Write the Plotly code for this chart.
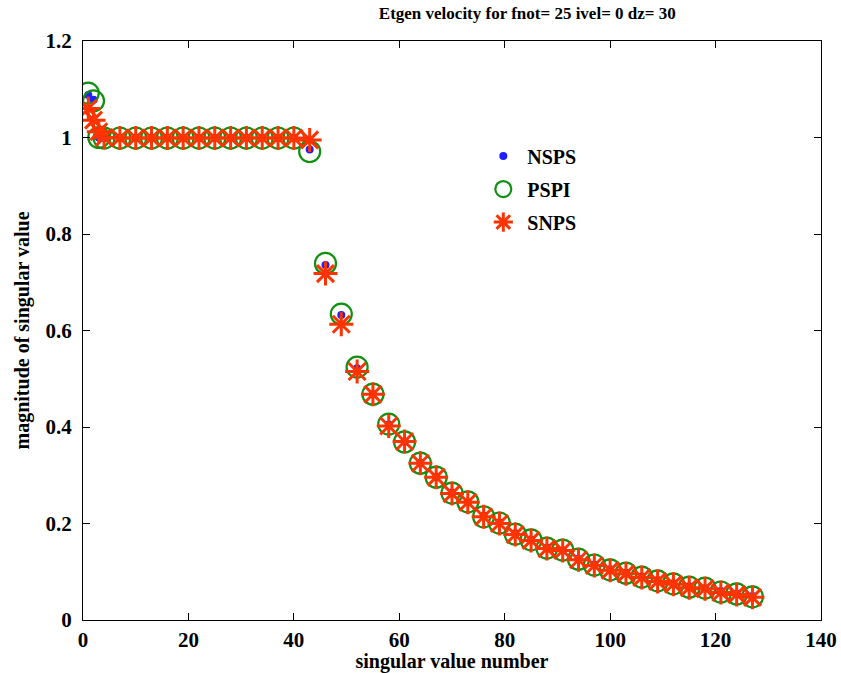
import plotly.graph_objects as go

title_text = "Etgen velocity for fnot= 25 ivel= 0 dz= 30"
x_label = "singular value number"
y_label = "magnitude of singular value"

sv_index = [1, 2, 3, 4, 7, 10, 13, 16, 19, 22, 25, 28, 31, 34, 37, 40, 43,
            46, 49, 52, 55, 58, 61, 64, 67, 70, 73, 76, 79, 82, 85, 88, 91,
            94, 97, 100, 103, 106, 109, 112, 115, 118, 121, 124, 127]

nsps = [1.088, 1.078, 1.0, 0.999, 0.999, 0.999, 0.999, 0.999, 0.999, 0.999,
        0.999, 0.999, 0.999, 0.999, 0.999, 0.999, 0.975,
        0.736, 0.632, 0.522, 0.468, 0.405, 0.370, 0.326, 0.297, 0.264, 0.244,
        0.216, 0.202, 0.180, 0.167, 0.150, 0.144, 0.127, 0.115, 0.105, 0.098,
        0.090, 0.083, 0.076, 0.070, 0.066, 0.060, 0.055, 0.050]

pspi = [1.092, 1.076, 1.0, 0.999, 0.999, 0.999, 0.999, 0.999, 0.999, 0.999,
        0.999, 0.999, 0.999, 0.999, 0.999, 0.999, 0.971,
        0.739, 0.634, 0.524, 0.468, 0.406, 0.369, 0.325, 0.296, 0.263, 0.245,
        0.214, 0.201, 0.178, 0.166, 0.149, 0.145, 0.126, 0.114, 0.104, 0.097,
        0.089, 0.081, 0.075, 0.068, 0.066, 0.058, 0.054, 0.048]

snps = [1.060, 1.036, 1.012, 1.0, 0.999, 0.999, 0.999, 0.999, 0.999, 0.999,
        0.999, 0.999, 0.999, 0.999, 0.999, 0.999, 0.995,
        0.718, 0.613, 0.515, 0.468, 0.402, 0.370, 0.325, 0.296, 0.262, 0.244,
        0.214, 0.200, 0.177, 0.165, 0.148, 0.144, 0.125, 0.113, 0.103, 0.096,
        0.088, 0.080, 0.074, 0.067, 0.065, 0.057, 0.053, 0.047]

x_ticks = [0, 20, 40, 60, 80, 100, 120, 140]
y_ticks = [0, 0.2, 0.4, 0.6, 0.8, 1.0, 1.2]
y_ticklabels = ["0", "0.2", "0.4", "0.6", "0.8", "1", "1.2"]

font_family = "Liberation Serif"

fig = go.Figure()
fig.add_trace(go.Scatter(
    x=sv_index, y=nsps, mode="markers", name="<b>NSPS</b>", legendgroup="a",
    marker=dict(symbol="circle", size=8, color="#1f1fff", line=dict(width=0)),
))
fig.add_trace(go.Scatter(
    x=sv_index, y=pspi, mode="markers", name="<b>PSPI</b>", legendgroup="b",
    marker=dict(symbol="circle-open", size=21, color="#109010",
                line=dict(width=2.2, color="#109010")),
))
fig.add_trace(go.Scatter(
    x=sv_index, y=snps, mode="markers", name="<b>SNPS</b>", legendgroup="c",
    marker=dict(symbol="asterisk-open", size=20, color="#ff3300",
                line=dict(width=3, color="#ff3300")),
))

axis_common = dict(
    showline=True, linecolor="black", linewidth=1.3, mirror="ticks",
    ticks="inside", ticklen=7, tickcolor="black", tickwidth=1,
    showgrid=False, zeroline=False, automargin=False,
    tickfont=dict(family=font_family, size=21, color="black", weight="bold"),
)

fig.update_xaxes(range=[0, 140], tickvals=x_ticks, ticklabelstandoff=1,
                 title=dict(text="<b>singular value number</b>", standoff=0,
                            font=dict(family=font_family, size=20, color="black")),
                 **axis_common)
fig.update_yaxes(range=[0, 1.2], tickvals=y_ticks, ticktext=y_ticklabels,
                 ticklabelstandoff=6,
                 title=dict(text="<b>magnitude of singular value</b>", standoff=10,
                            font=dict(family=font_family, size=20, color="black")),
                 **axis_common)

fig.update_layout(
    width=841, height=673,
    margin=dict(l=83, r=20, t=41, b=53),
    paper_bgcolor="white", plot_bgcolor="white",
    title=dict(text="<b>" + title_text + "</b>", x=0.627, xanchor="center",
               y=0.99, yanchor="top", automargin=False,
               font=dict(family=font_family, size=17, color="black")),
    legend=dict(x=0.537, y=0.835, xanchor="left", yanchor="top",
                bgcolor="rgba(0,0,0,0)", borderwidth=0,
                font=dict(family=font_family, size=20, color="black"),
                tracegroupgap=4, itemsizing="trace", itemwidth=38),
    showlegend=True,
)

fig.write_html("out.html")
